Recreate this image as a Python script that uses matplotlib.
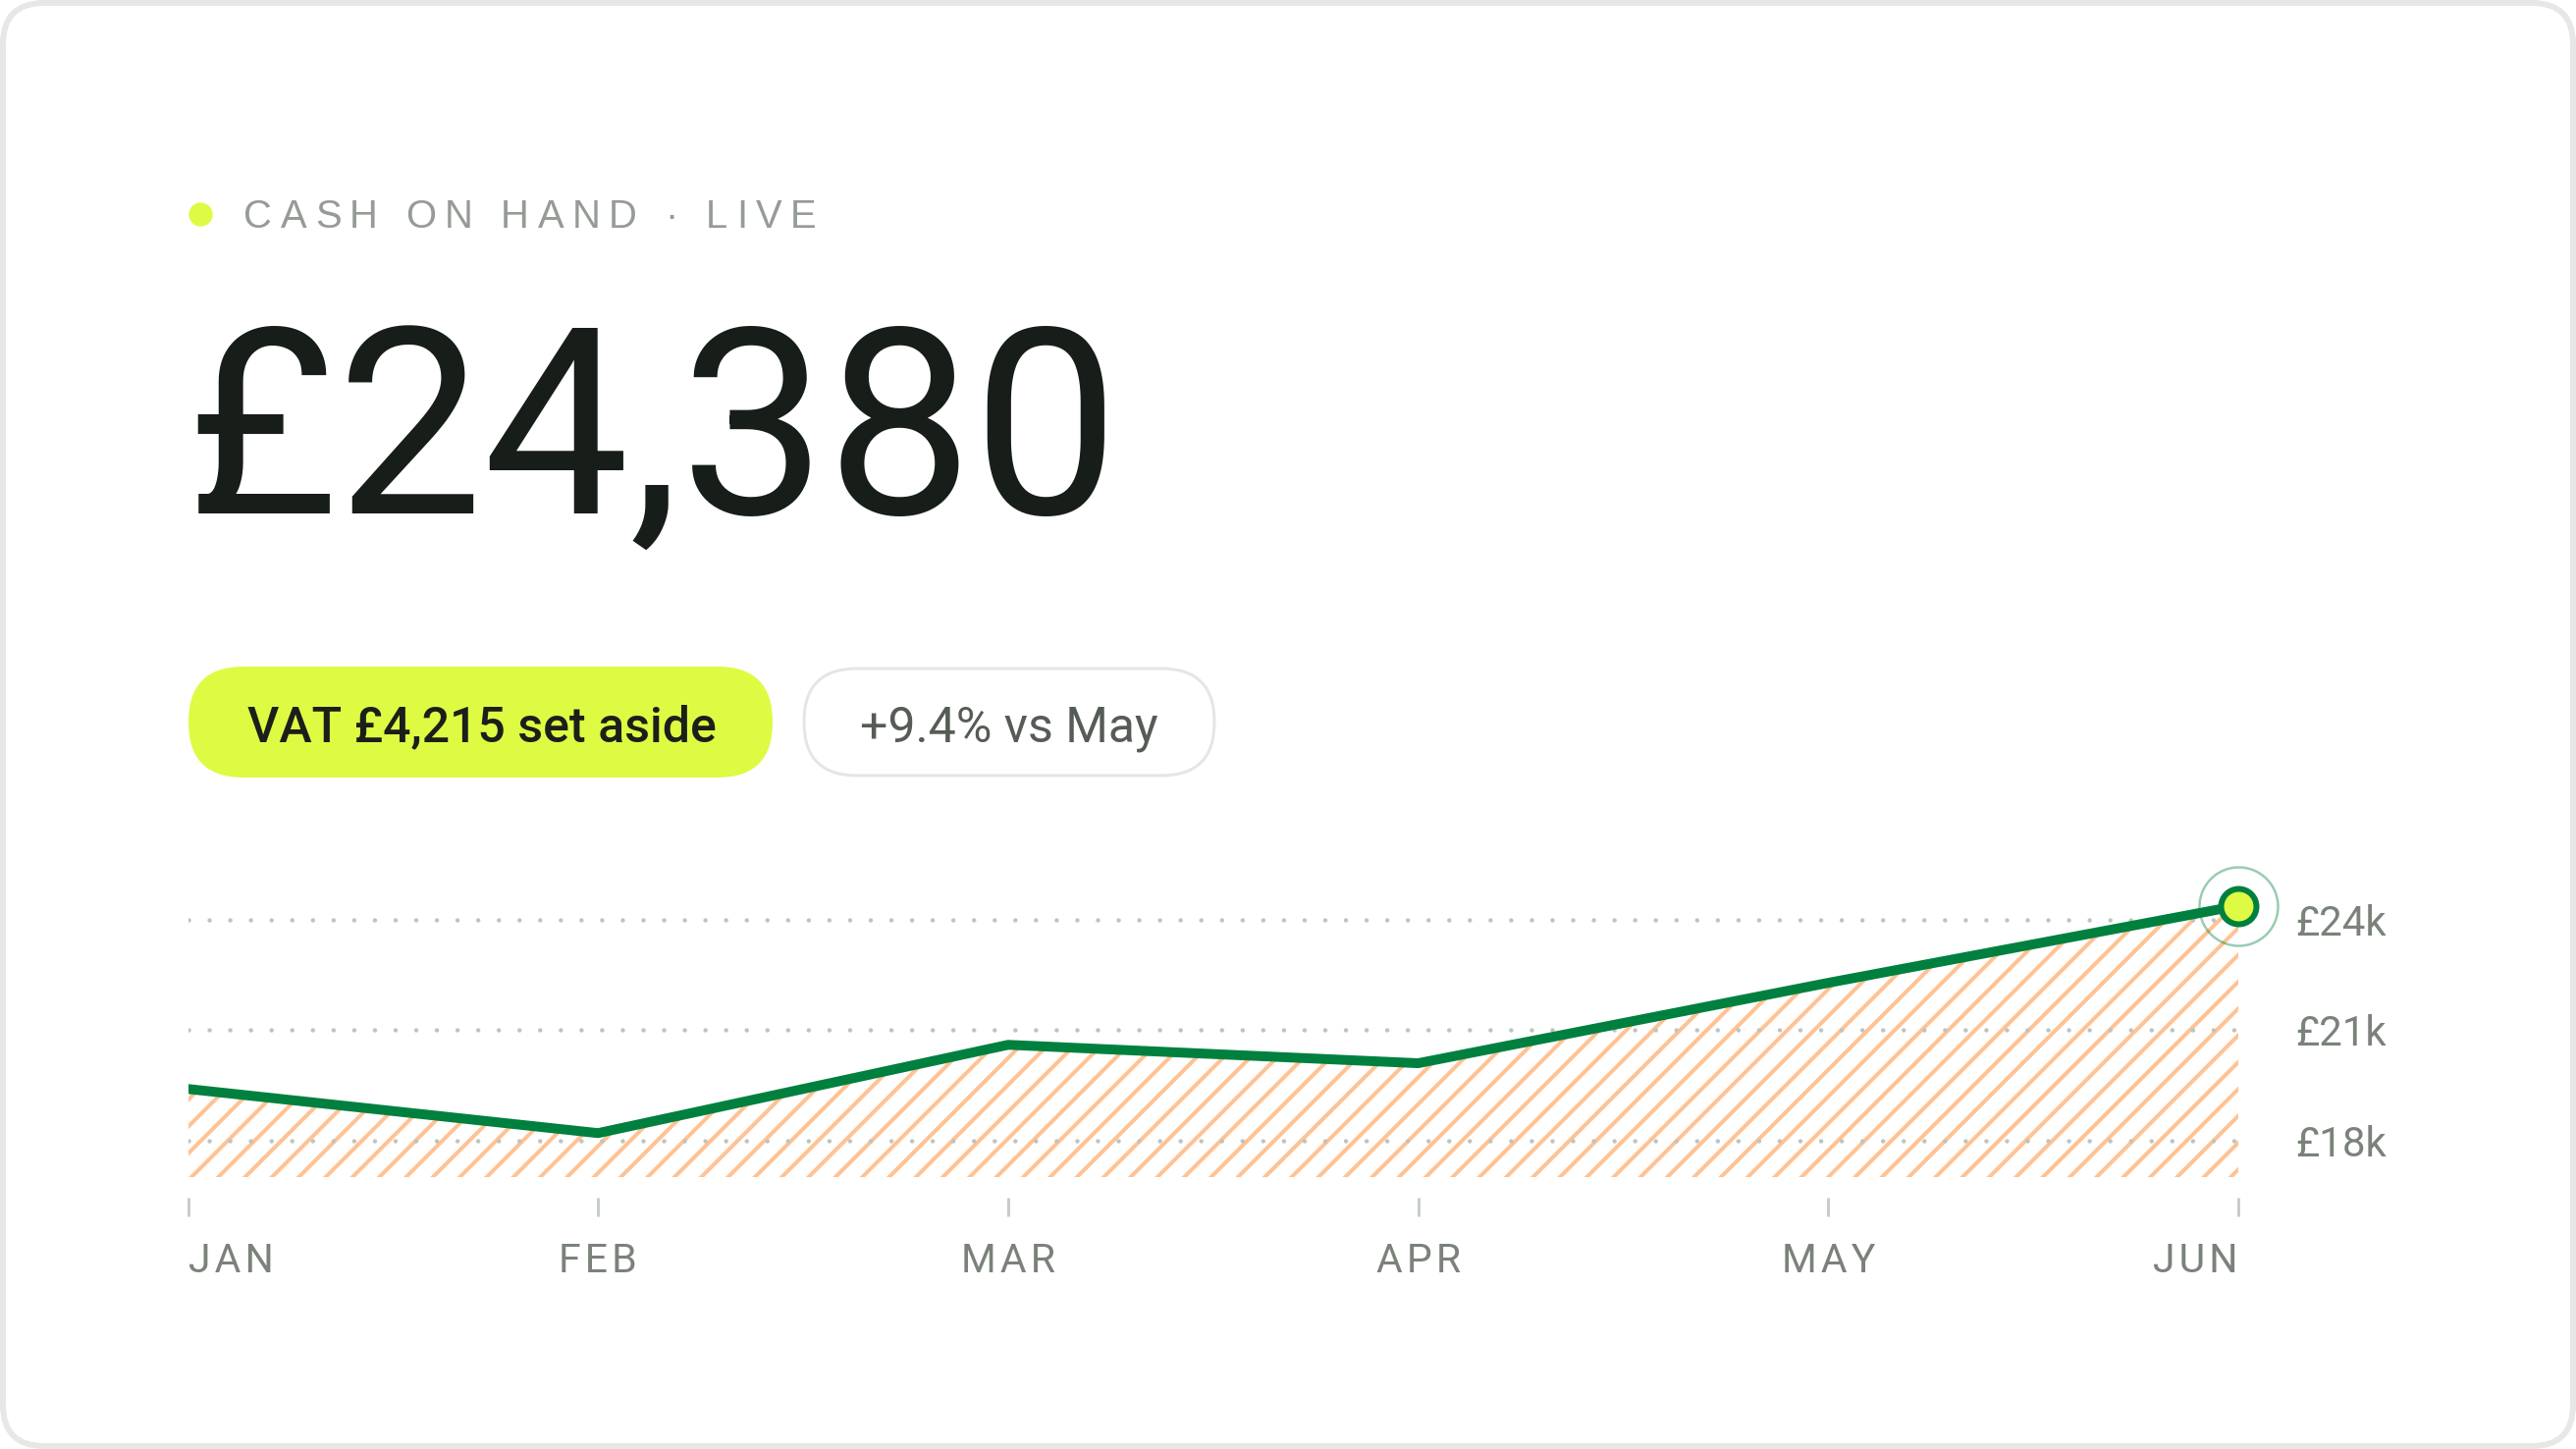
import matplotlib.pyplot as plt
from matplotlib.patches import FancyBboxPatch

DPI = 164
PT = 72 / DPI  # one pixel expressed in points

# data
months = ['JAN', 'FEB', 'MAR', 'APR', 'MAY', 'JUN']
cash = [19400, 18200, 20600, 20100, 22285, 24380]
grid_vals = [18000, 21000, 24000]
grid_labels = ['£18k', '£21k', '£24k']
title = 'CASH ON HAND · LIVE'
headline = '£24,380'
vat_label = 'VAT £4,215 set aside'
change_label = '+9.4% vs May'

GREEN = '#00803f'
LIME = '#dffa43'
ORANGE = '#ffc293'
MUTED = '#7a827a'

plt.rcParams['font.family'] = ['Roboto', 'DejaVu Sans']
plt.rcParams['hatch.linewidth'] = 4.0 * PT

fig = plt.figure(figsize=(16, 9), dpi=DPI)
fig.patch.set_facecolor('white')

# background axes in pixel coordinates (origin top-left)
bg = fig.add_axes([0, 0, 1, 1])
bg.set_xlim(0, 2624)
bg.set_ylim(1476, 0)
bg.axis('off')

card = FancyBboxPatch((3, 3), 2618, 1470, boxstyle='round,pad=0,rounding_size=42',
                      facecolor='white', edgecolor='#e7e8e6', linewidth=6 * PT)
bg.add_patch(card)


def tracked_text(x, y, s, spacing, **kw):
    # draw text letter by letter with extra tracking (matplotlib has no letter-spacing)
    r = fig.canvas.get_renderer()

    def width(t):
        tmp = bg.text(0, 0, t, **kw)
        w = tmp.get_window_extent(r).width
        tmp.remove()
        return w

    for i, ch in enumerate(s):
        if ch == ' ':
            continue
        off = width(s[:i + 1]) - width(ch)
        bg.text(x + off + i * spacing, y, ch, ha='left', va='baseline', **kw)


# live dot + header
bg.scatter([204], [218], s=(22 * PT) ** 2, color=LIME, zorder=3)
tracked_text(248, 232, title, 8.6, fontsize=40 * PT, color='#959b95',
             family=['Liberation Sans', 'DejaVu Sans'])

# big number
bg.text(189, 524, headline, ha='left', va='baseline', fontsize=265 * PT,
        color='#171d18')

# pills
pill1 = FancyBboxPatch((192, 679), 595, 113, boxstyle='round,pad=0,rounding_size=56',
                       facecolor=LIME, edgecolor='none')
bg.add_patch(pill1)
bg.text(491, 755, vat_label, ha='center', va='baseline', fontsize=50 * PT,
        fontweight='medium', color='#1a1f1a')

pill2 = FancyBboxPatch((819, 681), 418, 109, boxstyle='round,pad=0,rounding_size=54',
                       facecolor='white', edgecolor='#e4e6e3', linewidth=3 * PT)
bg.add_patch(pill2)
bg.text(1028, 755, change_label, ha='center', va='baseline', fontsize=50 * PT,
        color='#555c55')

# chart
x0, x1 = 191.5, 2280
ytop, ybot = 899.4, 1199.2
ax = fig.add_axes([x0 / 2624, (1476 - ybot) / 1476, (x1 - x0) / 2624, (ybot - ytop) / 1476])
ax.set_xlim(0, 5)
ax.set_ylim(17000, 25000)
ax.patch.set_alpha(0)
for sp in ax.spines.values():
    sp.set_visible(False)

xs = list(range(len(months)))
ax.fill_between(xs, cash, 17000, facecolor='none', edgecolor=ORANGE,
                hatch='//', linewidth=0, zorder=1)

ax.set_yticks(grid_vals, grid_labels)
ax.yaxis.tick_right()
ax.grid(axis='y', color='#bfc4bf', linewidth=4.5 * PT,
        linestyle=(0, (0.01, 21 / 4.5)))
for gl in ax.get_ygridlines():
    gl.set_dash_capstyle('round')
    gl.set_zorder(2)
ax.tick_params(axis='y', length=0, pad=58 * PT, labelsize=42 * PT, labelcolor=MUTED)

ax.spines['bottom'].set_position(('outward', 21 * PT))
ax.set_xticks(xs, ['\u200a'.join(m) for m in months])
ax.tick_params(axis='x', direction='out', length=19 * PT, width=3 * PT, color='#c7cdc7',
               pad=26 * PT, labelsize=41 * PT, labelcolor=MUTED)
labels = ax.get_xticklabels()
labels[0].set_ha('left')
labels[-1].set_ha('right')

ax.plot(xs, cash, color=GREEN, linewidth=10 * PT, solid_capstyle='round',
        solid_joinstyle='round', zorder=4)
ax.plot(xs[-1], cash[-1], 'o', ms=80 * PT, mfc='none', mec=GREEN, alpha=0.4,
        mew=2.5 * PT, clip_on=False, zorder=5)
ax.plot(xs[-1], cash[-1], 'o', ms=36 * PT, mfc=LIME, mec=GREEN, mew=6 * PT,
        clip_on=False, zorder=6)

fig.savefig('out.png', dpi=DPI, facecolor='white')
